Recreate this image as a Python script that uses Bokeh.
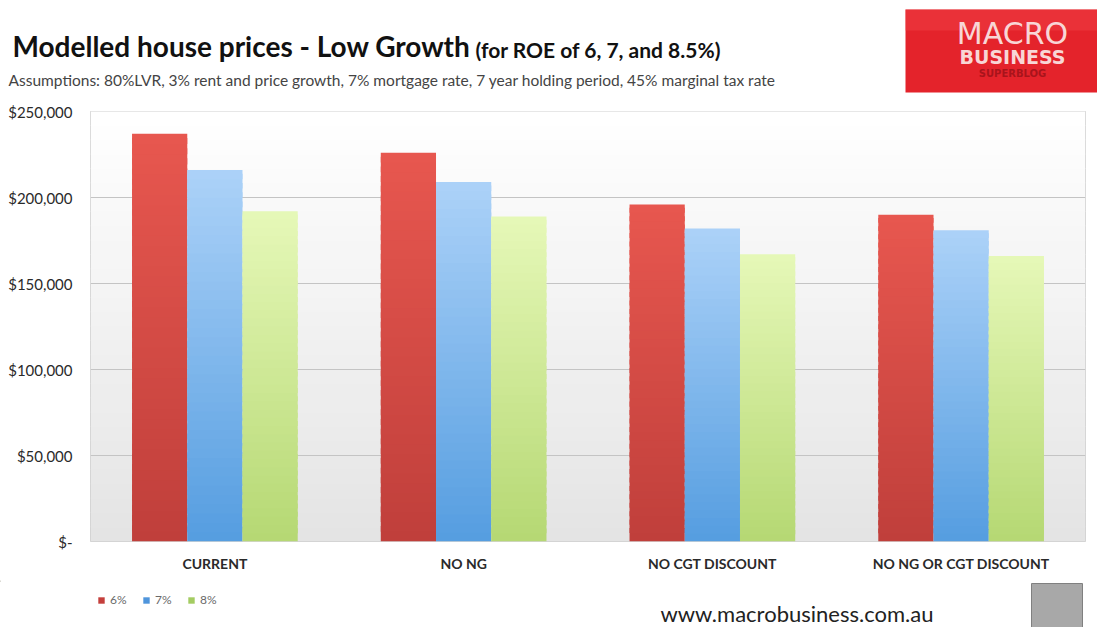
from bokeh.plotting import figure
from bokeh.layouts import column
from bokeh.models import (FactorRange, Range1d, FixedTicker, BoxAnnotation,
                          Legend, LegendItem, ColumnDataSource)
from bokeh.transform import dodge
from bokeh.core.properties import value
from bokeh.embed import file_html
from bokeh.resources import INLINE

# ---------------- data ----------------
categories = ["CURRENT", "NO NG", "NO CGT DISCOUNT", "NO NG OR CGT DISCOUNT"]
series_labels = ["6%", "7%", "8%"]
roe_6 = [237000, 226000, 196000, 190000]
roe_7 = [216000, 209000, 182000, 181000]
roe_8 = [192000, 189000, 167000, 166000]
y_ticks = [0, 50000, 100000, 150000, 200000, 250000]
y_tick_labels = ["$-", "$50,000", "$100,000", "$150,000", "$200,000", "$250,000"]

title_main = "Modelled house prices - Low Growth"
title_paren = "(for ROE of 6, 7, and 8.5%)"
subtitle = ("Assumptions: 80%LVR, 3% rent and price growth, 7% mortgage rate, "
            "7 year holding period, 45% marginal tax rate")
source_url = "www.macrobusiness.com.au"
logo_lines = ["MACRO", "BUSINESS", "SUPERBLOG"]

FONT = "Lato"
Y_MAX = 250000
W = 1097
BL = 0.36  # baseline compensation factor (fraction of font size)


def hex2rgb(h):
    h = h.lstrip("#")
    return tuple(int(h[i:i + 2], 16) for i in (0, 2, 4))


def mix(c1, c2, f):
    a, b = hex2rgb(c1), hex2rgb(c2)
    return "#%02x%02x%02x" % tuple(int(round(a[i] + (b[i] - a[i]) * f)) for i in range(3))


def blank_fig(h):
    f = figure(width=W, height=h, x_range=Range1d(0, W), y_range=Range1d(h, 0),
               output_backend="svg", toolbar_location=None,
               min_border=0, min_border_left=0, min_border_right=0,
               min_border_top=0, min_border_bottom=0, frame_align=False)
    f.axis.visible = False
    f.grid.grid_line_color = None
    f.outline_line_color = None
    f.background_fill_color = "white"
    f.border_fill_color = "white"
    return f


def put_text(f, x, y, txt, size, **kw):
    f.text(x=[x], y=[y - BL * size], text=[txt], text_font_size="%gpx" % size,
           text_baseline="alphabetic", **kw)


# ---------------- header ----------------
hdr = blank_fig(100)
put_text(hdr, 12, 56, title_main, 28, text_font=value(FONT), text_font_style="bold",
         text_color="#111111")
put_text(hdr, 475, 57, title_paren, 21, text_font=value(FONT), text_font_style="bold",
         text_color="#111111")
put_text(hdr, 8, 85, subtitle, 15.5, text_font=value(FONT), text_color="#444444")
# logo
hdr.quad(left=[905], right=[W], top=[9], bottom=[92], fill_color="#e4232b", line_color=None)
hdr.quad(left=[905], right=[W], top=[9], bottom=[30], fill_color="#ef4046", line_color=None,
         fill_alpha=0.5)
put_text(hdr, 1012, 44, logo_lines[0], 30, text_font=value("DejaVu Sans"),
         text_color="#f8d6d6", text_align="center")
put_text(hdr, 1012, 63, logo_lines[1], 19, text_font=value("DejaVu Sans"),
         text_font_style="bold", text_color="#f8d6d6", text_align="center")
put_text(hdr, 1012, 77, logo_lines[2], 10, text_font=value("DejaVu Sans"),
         text_font_style="bold", text_color="#a8141b", text_align="center")

# ---------------- main chart ----------------
p = figure(width=W, height=480, x_range=FactorRange(*categories), y_range=Range1d(0, Y_MAX),
           output_backend="svg", toolbar_location=None, frame_align=False,
           min_border_left=90, min_border_right=12, min_border_top=11, min_border_bottom=39)
p.background_fill_color = "#f0f0f0"
p.border_fill_color = "white"
p.outline_line_color = "#cfcfcf"
p.outline_line_width = 1

n_bg = 30
for i in range(n_bg):
    f = (i + 0.5) / n_bg
    p.add_layout(BoxAnnotation(bottom=Y_MAX * i / n_bg, top=Y_MAX * (i + 1.05) / n_bg,
                               fill_color=mix("#e4e4e4", "#ffffff", f), fill_alpha=1,
                               line_color=None, level="image"))

p.xgrid.grid_line_color = None
p.ygrid.grid_line_color = "#c4c4c4"
p.ygrid.grid_line_width = 1
p.ygrid.ticker = FixedTicker(ticks=y_ticks)

p.yaxis.ticker = FixedTicker(ticks=y_ticks)
p.yaxis.major_label_overrides = {t: l for t, l in zip(y_ticks, y_tick_labels)}
p.yaxis.axis_line_color = None
p.yaxis.major_tick_line_color = None
p.yaxis.minor_tick_line_color = None
p.yaxis.major_label_standoff = 12
p.yaxis.major_label_text_font = FONT
p.yaxis.major_label_text_font_size = "15px"
p.yaxis.major_label_text_color = "#2a2a2a"

p.xaxis.axis_line_color = None
p.xaxis.major_tick_line_color = None
p.xaxis.minor_tick_line_color = None
p.xaxis.major_label_standoff = 7
p.xaxis.major_label_text_font = FONT
p.xaxis.major_label_text_font_size = "14px"
p.xaxis.major_label_text_font_style = "bold"
p.xaxis.major_label_text_color = "#2a2a2a"

series = [
    (roe_6, "#bf3f3b", "#e8574f", -0.222),
    (roe_7, "#559de0", "#acd2f8", 0.0),
    (roe_8, "#b5d873", "#e6f8b8", 0.222),
]
n_seg = 40
for vals, c_bot, c_top, off in series:
    cats, bots, tops, cols = [], [], [], []
    for c, v in zip(categories, vals):
        for i in range(n_seg):
            cats.append(c)
            bots.append(v * i / n_seg)
            tops.append(v * min(i + 1.6, n_seg) / n_seg)
            cols.append(mix(c_bot, c_top, (i + 0.5) / n_seg))
    src = ColumnDataSource(dict(cat=cats, bottom=bots, top=tops, color=cols))
    p.vbar(x=dodge("cat", off, range=p.x_range), bottom="bottom", top="top", width=0.222,
           source=src, fill_color="color", line_color=None)

# ---------------- footer ----------------
ftr = blank_fig(47)
legend_colors = ["#c43f3c", "#4f95dc", "#a4cc62"]
items = []
for lab, col in zip(series_labels, legend_colors):
    # legend proxies: a single point kept outside the visible x-range
    r = ftr.vbar(x=[-50], bottom=[0], top=[1], width=1, fill_color=col, line_color=None)
    items.append(LegendItem(label=lab, renderers=[r]))
ftr.add_layout(Legend(items=items, location=(97, 20), orientation="horizontal",
                      label_text_font=FONT, label_text_font_size="12px",
                      label_text_color="#6a6a6a", glyph_width=8, glyph_height=8,
                      label_height=10, label_width=20, label_standoff=5, spacing=12,
                      padding=0, margin=0, border_line_color=None, background_fill_alpha=0))
put_text(ftr, 660, 41, source_url, 22, text_font=value(FONT), text_color="#222222")
ftr.quad(left=[1031], right=[1082], top=[3], bottom=[47], fill_color="#a8a8a8",
         line_color="#808080")

layout = column(hdr, p, ftr, spacing=0)
open("out.html", "w").write(file_html(layout, INLINE))
